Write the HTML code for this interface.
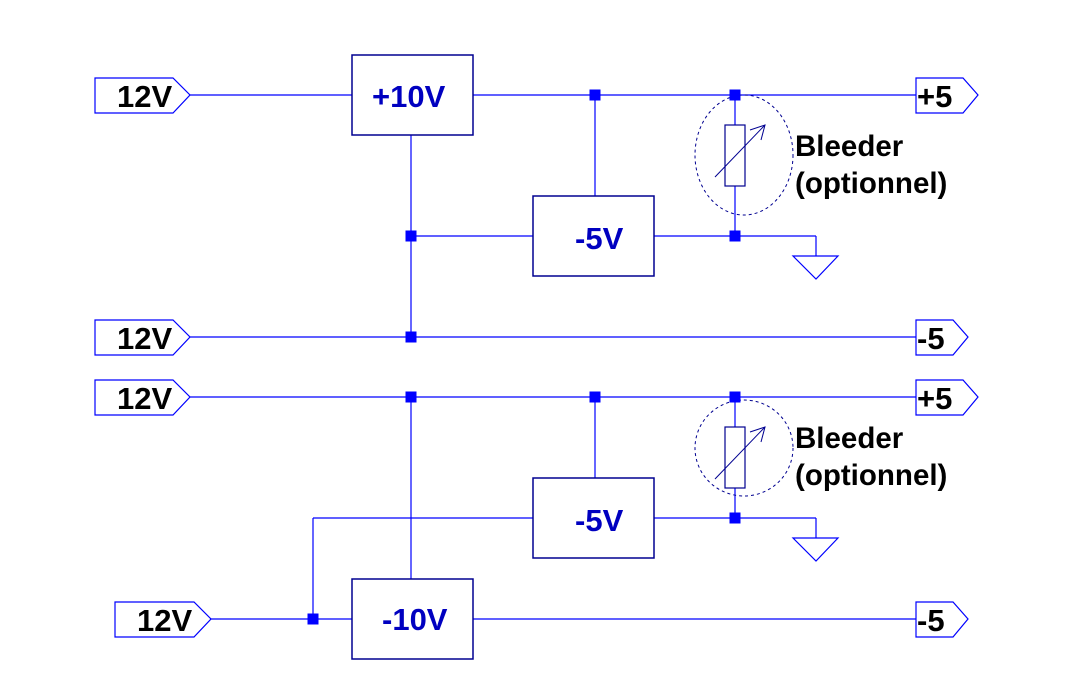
<!DOCTYPE html>
<html><head><meta charset="utf-8"><style>
html,body{margin:0;padding:0;background:#fff;}
svg{display:block;}
.w{stroke:#0000ff;stroke-width:1.2;fill:none;}
.b{stroke:#000090;stroke-width:1.5;fill:none;}
.lb{font-family:"Liberation Sans",sans-serif;font-weight:bold;font-size:31px;fill:#000;}
.bx{font-family:"Liberation Sans",sans-serif;font-weight:bold;font-size:31px;fill:#0000c0;}
.bl{font-family:"Liberation Sans",sans-serif;font-weight:bold;font-size:29.5px;fill:#000;}
.j{fill:#0000ff;}
</style></head><body>
<svg width="1081" height="693" viewBox="0 0 1081 693">
<g class="w">
<line x1="190" y1="95" x2="352" y2="95"/>
<line x1="473" y1="95" x2="916" y2="95"/>
<line x1="411" y1="135" x2="411" y2="337"/>
<line x1="411" y1="236" x2="533" y2="236"/>
<line x1="595" y1="95" x2="595" y2="196"/>
<line x1="654" y1="236" x2="816" y2="236"/>
<line x1="816" y1="236" x2="816" y2="256"/>
<polygon points="793,256 838,256 816,279"/>
<line x1="190" y1="337" x2="916" y2="337"/>
<line x1="735" y1="95" x2="735" y2="125"/>
<line x1="735" y1="186" x2="735" y2="236"/>

<line x1="190" y1="397" x2="916" y2="397"/>
<line x1="411" y1="397" x2="411" y2="579"/>
<line x1="595" y1="397" x2="595" y2="478"/>
<line x1="313" y1="518" x2="533" y2="518"/>
<line x1="313" y1="518" x2="313" y2="619"/>
<line x1="654" y1="518" x2="816" y2="518"/>
<line x1="816" y1="518" x2="816" y2="538"/>
<polygon points="793,538 838,538 816,561"/>
<line x1="210" y1="619" x2="352" y2="619"/>
<line x1="473" y1="619" x2="916" y2="619"/>
<line x1="735" y1="397" x2="735" y2="427"/>
<line x1="735" y1="488" x2="735" y2="518"/>

<polygon points="95,78 173,78 190,95 173,113 95,113"/>
<polygon points="95,320 173,320 190,337 173,355 95,355"/>
<polygon points="95,380 173,380 190,397 173,415 95,415"/>
<polygon points="115,602 194,602 211,619 194,637 115,637"/>
<polygon points="916,78 963,78 978,95 963,113 916,113"/>
<polygon points="916,320 953,320 968,337 953,355 916,355"/>
<polygon points="916,380 963,380 978,397 963,415 916,415"/>
<polygon points="916,602 953,602 968,619 953,637 916,637"/>
</g>
<g class="b">
<rect x="352" y="55" width="121" height="80"/>
<rect x="533" y="196" width="121" height="80"/>
<rect x="533" y="478" width="121" height="80"/>
<rect x="352" y="579" width="121" height="80"/>
<rect x="725" y="125" width="20" height="61" stroke-width="1.2"/>
<rect x="725" y="427" width="20" height="61" stroke-width="1.2"/>
<ellipse cx="744" cy="155" rx="49" ry="60" stroke-width="1" stroke-dasharray="3,3"/>
<ellipse cx="744" cy="448" rx="49" ry="48" stroke-width="1" stroke-dasharray="3,3"/>
<g stroke-width="1">
<line x1="715" y1="177" x2="765" y2="125"/>
<polyline points="750,130 765,125 761,140"/>
<line x1="715" y1="479" x2="765" y2="427"/>
<polyline points="750,432 765,427 761,442"/>
</g>
</g>
<g class="j">
<rect x="589.5" y="89.5" width="11" height="11"/>
<rect x="729.5" y="89.5" width="11" height="11"/>
<rect x="405.5" y="230.5" width="11" height="11"/>
<rect x="729.5" y="230.5" width="11" height="11"/>
<rect x="405.5" y="331.5" width="11" height="11"/>
<rect x="405.5" y="391.5" width="11" height="11"/>
<rect x="589.5" y="391.5" width="11" height="11"/>
<rect x="729.5" y="391.5" width="11" height="11"/>
<rect x="729.5" y="512.5" width="11" height="11"/>
<rect x="307.5" y="613.5" width="11" height="11"/>
</g>
<text class="lb" x="117" y="107">12V</text>
<text class="lb" x="117" y="349">12V</text>
<text class="lb" x="117" y="409">12V</text>
<text class="lb" x="137" y="631">12V</text>
<text class="lb" x="917" y="107">+5</text>
<text class="lb" x="917" y="349">-5</text>
<text class="lb" x="917" y="409">+5</text>
<text class="lb" x="917" y="631">-5</text>
<text class="bx" x="372" y="107">+10V</text>
<text class="bx" x="575" y="249">-5V</text>
<text class="bx" x="575" y="531">-5V</text>
<text class="bx" x="382" y="630">-10V</text>
<text class="bl" x="795" y="156">Bleeder</text>
<text class="bl" x="795" y="193">(optionnel)</text>
<text class="bl" x="795" y="448">Bleeder</text>
<text class="bl" x="795" y="485">(optionnel)</text>
</svg>
</body></html>
